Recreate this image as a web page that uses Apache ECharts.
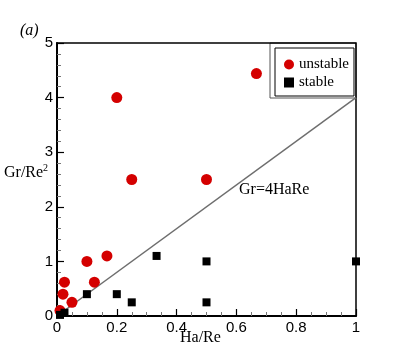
<!DOCTYPE html>
<html>
<head>
<meta charset="utf-8">
<script src="https://cdn.jsdelivr.net/npm/echarts@6/dist/echarts.min.js"></script>
<style>
  html, body { margin: 0; padding: 0; background: #fff; }
  #chart { width: 399px; height: 355px; }
</style>
</head>
<body>
<div id="chart"></div>
<script>
(() => {
    const SERIF = "'Liberation Serif', 'DejaVu Serif', serif";
    const SANS = "'Liberation Sans', Arial, sans-serif";

    // unstable cases (red circles)
    const unstableX = [0.667, 0.2, 0.25, 0.5, 0.167, 0.1, 0.125, 0.025, 0.02, 0.05, 0.01];
    const unstableY = [4.44, 4.0, 2.5, 2.5, 1.1, 1.0, 0.62, 0.62, 0.4, 0.25, 0.1];

    // stable cases (black squares)
    const stableX = [0.1, 0.2, 0.25, 0.333, 0.5, 0.5, 1.0, 0.025, 0.01];
    const stableY = [0.4, 0.4, 0.25, 1.1, 1.0, 0.25, 1.0, 0.06, 0.02];

    // criterion line Gr = 4 Ha Re
    const lineX = [0, 1];
    const lineY = [0, 4];

    const xTickLabels = ['0', '0.2', '0.4', '0.6', '0.8', '1'];
    const yTickLabels = ['0', '1', '2', '3', '4', '5'];

    const pairs = (xs, ys) => xs.map((x, i) => [x, ys[i]]);

    let chart = echarts.init(document.getElementById('chart'));

    let option = {
        animation: false,
        backgroundColor: '#fff',
        grid: {
            left: 57, right: 43, top: 43, bottom: 39,
            show: true,
            borderColor: '#000',
            borderWidth: 1.5
        },
        xAxis: {
            type: 'value',
            min: 0, max: 1, interval: 0.2,
            axisLine: { lineStyle: { color: '#000', width: 2 } },
            axisTick: { inside: true, length: 7, lineStyle: { color: '#000', width: 1.2 } },
            minorTick: { show: true, splitNumber: 4, length: 4, lineStyle: { color: '#777' } },
            splitLine: { show: false },
            axisLabel: {
                color: '#000', fontFamily: SANS, fontSize: 15, margin: 4,
                formatter: (v) => xTickLabels[Math.round(v / 0.2)]
            }
        },
        yAxis: {
            type: 'value',
            min: 0, max: 5, interval: 1,
            axisLine: { lineStyle: { color: '#000', width: 2 } },
            axisTick: { inside: true, length: 7, lineStyle: { color: '#000', width: 1.2 } },
            minorTick: { show: true, splitNumber: 5, length: 4, lineStyle: { color: '#777' } },
            splitLine: { show: false },
            axisLabel: {
                color: '#000', fontFamily: SANS, fontSize: 15, margin: 4,
                formatter: (v) => yTickLabels[Math.round(v)]
            }
        },
        legend: {
            data: ['unstable', 'stable'],
            orient: 'vertical',
            left: 275, top: 48,
            padding: [9, 5, 6, 9],
            itemGap: 3,
            itemWidth: 10, itemHeight: 10,
            backgroundColor: '#fff',
            borderColor: '#000',
            borderWidth: 1,
            textStyle: { color: '#000', fontFamily: SERIF, fontSize: 15 }
        },
        graphic: [
            {
                type: 'rect', z: -1,
                shape: { x: 270, y: 43, width: 86, height: 55 },
                style: { fill: 'none', stroke: '#555', lineWidth: 1 }
            },
            {
                type: 'text', left: 20, top: 23,
                style: { text: '(a)', font: 'italic 16px ' + SERIF, fill: '#000' }
            },
            {
                type: 'text', left: 4, top: 163,
                style: {
                    text: '{a|Gr/Re}{b|2}',
                    rich: {
                        a: { fontFamily: SERIF, fontSize: 16, fill: '#000', verticalAlign: 'bottom' },
                        b: { fontFamily: SERIF, fontSize: 10, fill: '#000', verticalAlign: 'top', padding: [0, 0, 8, 0] }
                    }
                }
            },
            {
                type: 'text', left: 180, top: 330,
                style: { text: 'Ha/Re', font: '16px ' + SERIF, fill: '#000' }
            },
            {
                type: 'text', left: 239, top: 182,
                style: { text: 'Gr=4HaRe', font: '16px ' + SERIF, fill: '#000' }
            }
        ],
        series: [
            {
                name: 'Gr=4HaRe',
                type: 'line',
                data: pairs(lineX, lineY),
                symbol: 'none',
                lineStyle: { color: '#6e6e6e', width: 1.5 },
                z: 1
            },
            {
                name: 'unstable',
                type: 'scatter',
                data: pairs(unstableX, unstableY),
                symbol: 'circle',
                symbolSize: 11,
                itemStyle: { color: '#d40000', opacity: 1 },
                z: 3
            },
            {
                name: 'stable',
                type: 'scatter',
                data: pairs(stableX, stableY),
                symbol: 'rect',
                symbolSize: 8,
                itemStyle: { color: '#000', opacity: 1 },
                z: 4
            }
        ]
    };
    chart.setOption(option);
})();
</script>
</body>
</html>
